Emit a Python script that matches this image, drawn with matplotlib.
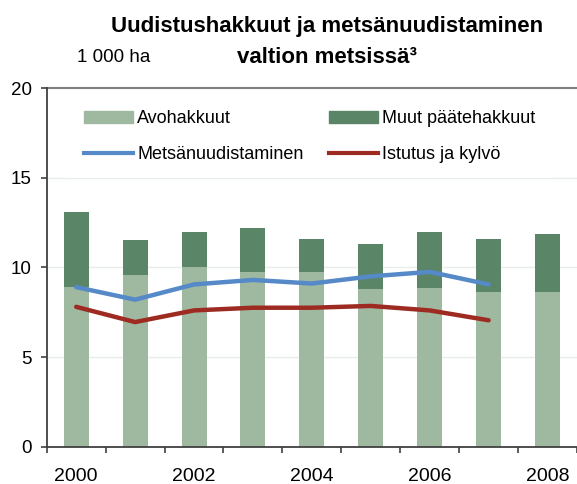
import numpy as np
import matplotlib.pyplot as plt
from matplotlib.patches import Patch
from matplotlib.lines import Line2D

plt.rcParams['font.family'] = ['Liberation Sans', 'DejaVu Sans']

years = [2000, 2001, 2002, 2003, 2004, 2005, 2006, 2007, 2008]
avohakkuut = [8.9, 9.6, 10.0, 9.75, 9.75, 8.8, 8.85, 8.65, 8.6]
muut = [4.2, 1.9, 1.95, 2.45, 1.85, 2.5, 3.15, 2.95, 3.25]
metsanuud = [8.9, 8.2, 9.05, 9.3, 9.1, 9.5, 9.75, 9.05]
istutus = [7.8, 6.95, 7.6, 7.75, 7.75, 7.85, 7.6, 7.05]

c_light = '#9fb8a0'
c_dark = '#5a8566'
c_blue = '#5589c8'
c_red = '#9e2b22'

fig = plt.figure(figsize=(5.77, 4.84), dpi=100)
ax = fig.add_axes([0.081, 0.0771, 0.919, 0.7409])

x = np.arange(len(years))
ax.bar(x, avohakkuut, 0.424, color=c_light, zorder=2)
ax.bar(x, muut, 0.424, bottom=avohakkuut, color=c_dark, zorder=2)
ax.plot(x[:len(metsanuud)], metsanuud, color=c_blue, lw=3.2, zorder=3,
        solid_capstyle='round')
ax.plot(x[:len(istutus)], istutus, color=c_red, lw=3.2, zorder=3,
        solid_capstyle='round')

ax.set_xlim(-0.5, len(years) - 0.5)
ax.set_ylim(0, 20)
ax.set_yticks([0, 5, 10, 15, 20])
for v in [5, 10, 15]:
    ax.axhline(v, color='#e6efe6', lw=1, zorder=1)
ax.axhline(20, color='#808080', lw=1.5, zorder=1, clip_on=False)

ax.set_xticks(np.arange(-0.5, len(years)), minor=False)
ax.set_xticklabels([])
ax.set_xticks(x[::2], minor=True)
ax.set_xticklabels([str(y) for y in years[::2]], minor=True)
ax.tick_params(axis='x', which='minor', length=0, labelsize=14, pad=15)
ax.tick_params(axis='x', which='major', length=4.3, width=1.2, direction='out',
               color='#404040')
ax.tick_params(axis='y', length=4.3, width=1.2, labelsize=13.5, color='#404040',
               pad=6.5)

for s in ['top', 'right']:
    ax.spines[s].set_visible(False)
for s in ['left', 'bottom']:
    ax.spines[s].set_color('#404040')
    ax.spines[s].set_linewidth(1.3)

handles = [Patch(color=c_light), Line2D([], [], color=c_blue, lw=3),
           Patch(color=c_dark), Line2D([], [], color=c_red, lw=3)]
labels = ['Avohakkuut', 'Metsänuudistaminen', 'Muut päätehakkuut', 'Istutus ja kylvö']
leg = ax.legend(handles, labels, ncol=2, loc='upper left',
                bbox_to_anchor=(69.5 / 577, 1 - 96 / 484),
                bbox_transform=fig.transFigure, fontsize=13, frameon=True,
                facecolor='white', edgecolor='none', framealpha=1,
                handlelength=2.7, handletextpad=0.25, columnspacing=1.4,
                labelspacing=1.05, borderaxespad=0, borderpad=0.8,
                fancybox=False)
leg.set_zorder(1.5)

fig.text(327 / 577, 1 - 31.7 / 484, 'Uudistushakkuut ja metsänuudistaminen',
         ha='center', va='baseline', fontsize=16, fontweight='bold')
fig.text(327 / 577, 1 - 63.3 / 484, 'valtion metsissä³', ha='center',
         va='baseline', fontsize=16, fontweight='bold')
fig.text(76.7 / 577, 1 - 62.3 / 484, '1 000 ha', ha='left', va='baseline',
         fontsize=13.5)

fig.savefig('out.png', dpi=100)
